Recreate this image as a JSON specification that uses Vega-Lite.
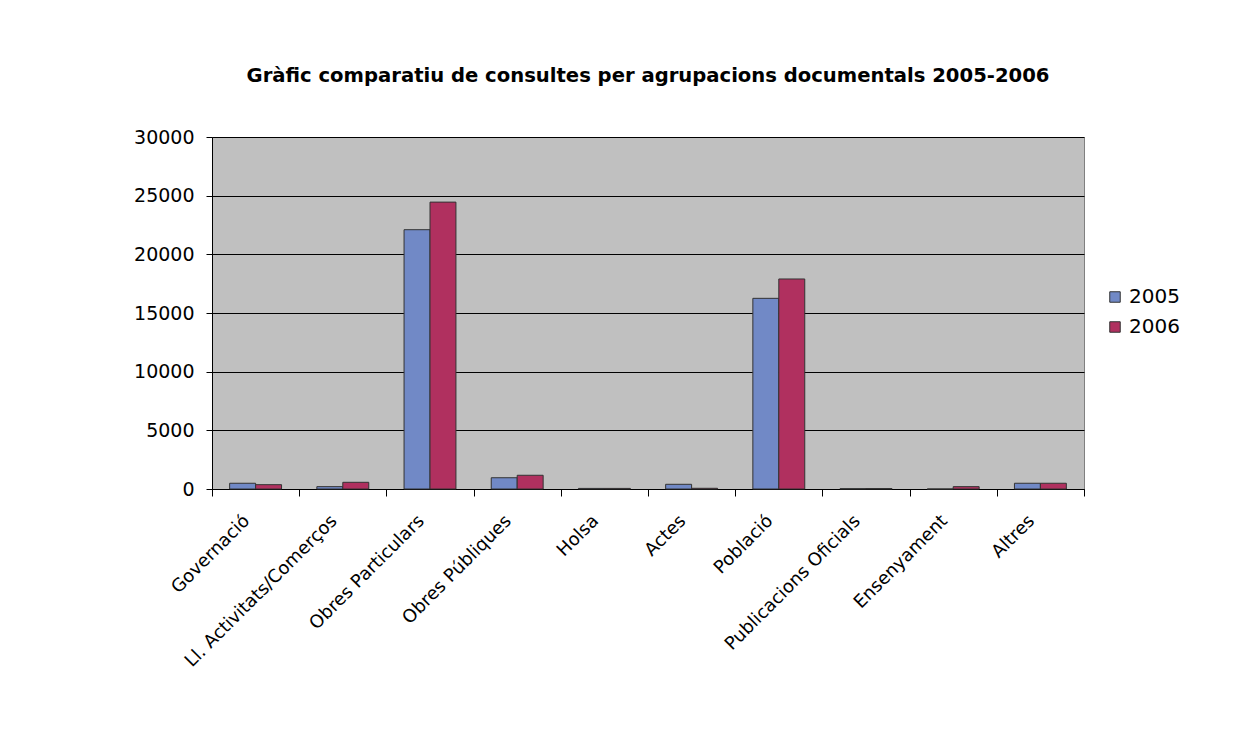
{
  "$schema": "https://vega.github.io/schema/vega-lite/v6.json",
  "width": 872,
  "height": 352,
  "autosize": {"type": "none"},
  "padding": {"left": 212, "top": 137, "right": 174, "bottom": 251},
  "background": "white",
  "title": {
    "text": "Gràfic comparatiu de consultes per agrupacions documentals 2005-2006",
    "font": "DejaVu Sans",
    "fontSize": 19.6,
    "fontWeight": "bold",
    "color": "#000000",
    "anchor": "middle",
    "offset": 41
  },
  "data": {
    "values": [
      {"categoria": "Governació", "any": "2005", "consultes": 490},
      {"categoria": "Governació", "any": "2006", "consultes": 370},
      {"categoria": "Ll. Activitats/Comerços", "any": "2005", "consultes": 200},
      {"categoria": "Ll. Activitats/Comerços", "any": "2006", "consultes": 570},
      {"categoria": "Obres Particulars", "any": "2005", "consultes": 22100},
      {"categoria": "Obres Particulars", "any": "2006", "consultes": 24450},
      {"categoria": "Obres Públiques", "any": "2005", "consultes": 960},
      {"categoria": "Obres Públiques", "any": "2006", "consultes": 1170},
      {"categoria": "Holsa", "any": "2005", "consultes": 50},
      {"categoria": "Holsa", "any": "2006", "consultes": 50},
      {"categoria": "Actes", "any": "2005", "consultes": 400},
      {"categoria": "Actes", "any": "2006", "consultes": 60},
      {"categoria": "Població", "any": "2005", "consultes": 16250},
      {"categoria": "Població", "any": "2006", "consultes": 17900},
      {"categoria": "Publicacions Oficials", "any": "2005", "consultes": 30},
      {"categoria": "Publicacions Oficials", "any": "2006", "consultes": 40},
      {"categoria": "Ensenyament", "any": "2005", "consultes": 0},
      {"categoria": "Ensenyament", "any": "2006", "consultes": 200},
      {"categoria": "Altres", "any": "2005", "consultes": 490},
      {"categoria": "Altres", "any": "2006", "consultes": 490}
    ]
  },
  "mark": {"type": "bar", "stroke": "#333333", "strokeWidth": 1},
  "encoding": {
    "x": {
      "field": "categoria",
      "type": "nominal",
      "sort": null,
      "scale": {"paddingInner": 0, "paddingOuter": 0},
      "axis": {
        "title": null,
        "labelAngle": -45,
        "labelAlign": "right",
        "labelBaseline": "middle",
        "labelFont": "DejaVu Sans",
        "labelFontSize": 18,
        "labelColor": "#000000",
        "labelPadding": 22,
        "labelOffset": -9,
        "labelLimit": 400,
        "tickBand": "extent",
        "tickColor": "#000000",
        "tickSize": 7,
        "domainColor": "#000000",
        "grid": false
      }
    },
    "xOffset": {
      "field": "any",
      "type": "nominal",
      "scale": {"paddingInner": 0, "paddingOuter": 0.68}
    },
    "y": {
      "field": "consultes",
      "type": "quantitative",
      "scale": {"domain": [0, 30000]},
      "axis": {
        "title": null,
        "values": [0, 5000, 10000, 15000, 20000, 25000, 30000],
        "format": "d",
        "labelFont": "DejaVu Sans",
        "labelFontSize": 19,
        "labelColor": "#000000",
        "labelPadding": 12,
        "tickColor": "#000000",
        "tickSize": 6,
        "domainColor": "#000000",
        "grid": true,
        "gridColor": "#000000",
        "gridOpacity": 1,
        "gridWidth": 1
      }
    },
    "color": {
      "field": "any",
      "type": "nominal",
      "scale": {"domain": ["2005", "2006"], "range": ["#7189C6", "#B0305F"]},
      "legend": {
        "title": null,
        "orient": "none",
        "legendX": 893,
        "legendY": 150,
        "symbolType": "square",
        "symbolSize": 110,
        "symbolStrokeColor": "#333333",
        "symbolStrokeWidth": 1,
        "labelFont": "DejaVu Sans",
        "labelFontSize": 20,
        "labelColor": "#000000",
        "rowPadding": 10,
        "labelOffset": 4
      }
    }
  },
  "config": {
    "view": {"fill": "#C0C0C0", "stroke": "#808080"}
  }
}
